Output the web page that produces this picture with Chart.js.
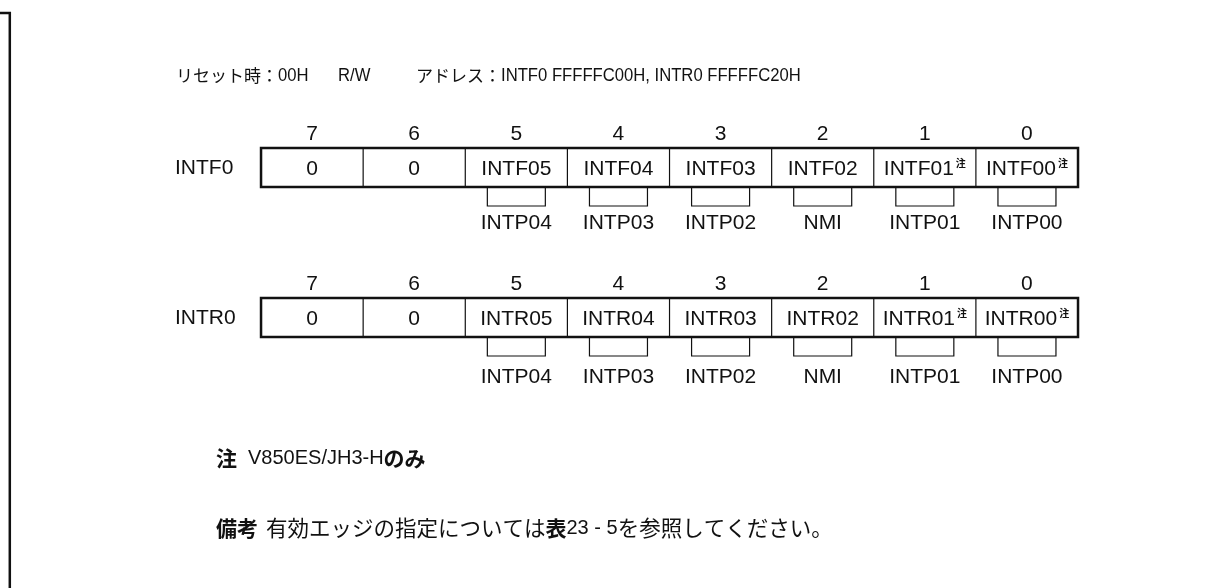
<!DOCTYPE html>
<html>
<head>
<meta charset="utf-8">
<script src="https://cdn.jsdelivr.net/npm/chart.js@4.4.1/dist/chart.umd.min.js"></script>
<style>
    body { margin: 0; background: #fff; }
    #wrap { width: 1231px; height: 588px; }
</style>
</head>
<body>
<div id="wrap"><canvas id="regChart" width="1231" height="588"></canvas></div>
<script>
// INTF0 / INTR0 register layout (bit 7 on the left)
const bits = [7, 6, 5, 4, 3, 2, 1, 0];
const registerNames = ['INTF0', 'INTR0'];
const intfFields = ['0', '0', 'INTF05', 'INTF04', 'INTF03', 'INTF02', 'INTF01', 'INTF00'];
const intrFields = ['0', '0', 'INTR05', 'INTR04', 'INTR03', 'INTR02', 'INTR01', 'INTR00'];
const noteMarks = [false, false, false, false, false, false, true, true];
const pinNames = ['', '', 'INTP04', 'INTP03', 'INTP02', 'NMI', 'INTP01', 'INTP00'];
const registerFields = [intfFields, intrFields];

const headerReset = 'リセット時：';
const headerResetValue = '00H';
const headerAccess = 'R/W';
const headerAddr = 'アドレス：';
const headerAddrValue = 'INTF0 FFFFFC00H, INTR0 FFFFFC20H';
const noteText = ['注', 'V850ES/JH3-H', 'のみ'];
const remarkText = ['備考', '有効エッジの指定については', '表', '23 - 5', 'を参照してください。'];

// layout (y values are in canvas units, x in bit units)
const rowTop = [148, 298];
const rowHeight = 39;
const bitLabelGap = 14;
const bracketDepth = 19;
const bracketHalf = 0.284;
const pinLabelGap = [36, 40];

const LAT = '21px "Liberation Sans", Arial, sans-serif';
const HLAT = '18.5px "Liberation Sans", Arial, sans-serif';
const HJP = '17px "Noto Sans CJK JP", sans-serif';
const NLAT = '20px "Liberation Sans", Arial, sans-serif';
const NJP = '21.5px "Noto Sans CJK JP", sans-serif';
const NJPB = 'bold 21px "Noto Sans CJK JP", sans-serif';
const SUP = 'bold 10px "Noto Sans CJK JP", sans-serif';

// draw text pieces one after another; optional horizontal squeeze per piece
function drawRuns(ctx, runs, x, y) {
    runs.forEach(([font, text, sx = 1]) => {
        ctx.font = font;
        ctx.save();
        ctx.translate(x, y);
        ctx.scale(sx, 1);
        ctx.fillText(text, 0, 0);
        ctx.restore();
        x += ctx.measureText(text).width * sx;
    });
    return x;
}

const registerDiagram = {
    id: 'registerDiagram',
    afterDraw(chart) {
        const { ctx, scales: { x, y } } = chart;
        ctx.save();
        ctx.fillStyle = '#111';
        ctx.strokeStyle = '#111';
        ctx.textBaseline = 'middle';

        // outer frame (top and left edge only)
        ctx.lineWidth = 2.5;
        ctx.beginPath();
        ctx.moveTo(x.getPixelForValue(x.max), y.getPixelForValue(13));
        ctx.lineTo(x.getPixelForValue(9.96), y.getPixelForValue(13));
        ctx.lineTo(x.getPixelForValue(9.96), y.getPixelForValue(y.max));
        ctx.stroke();

        // header
        ctx.textAlign = 'left';
        drawRuns(ctx, [[HJP, headerReset], [HLAT, headerResetValue, 0.9]], 176, 76);
        drawRuns(ctx, [[HLAT, headerAccess, 0.9]], 338, 76);
        drawRuns(ctx, [[HJP, headerAddr], [HLAT, headerAddrValue, 0.9]], 416, 76);

        registerNames.forEach((name, r) => {
            const top = y.getPixelForValue(rowTop[r]);
            const bottom = y.getPixelForValue(rowTop[r] + rowHeight);
            const left = x.getPixelForValue(7.5);
            const right = x.getPixelForValue(-0.5);
            const mid = (top + bottom) / 2;

            // register name
            ctx.textAlign = 'left';
            ctx.font = LAT;
            ctx.fillText(name, 175, mid + 1);

            // cell dividers
            ctx.lineWidth = 1.2;
            bits.forEach((b) => {
                if (b === 7) return;
                const px = x.getPixelForValue(b + 0.5);
                ctx.beginPath();
                ctx.moveTo(px, top);
                ctx.lineTo(px, bottom);
                ctx.stroke();
            });
            // outer box
            ctx.lineWidth = 2.5;
            ctx.strokeRect(left, top, right - left, bottom - top);

            bits.forEach((b, i) => {
                const cx = x.getPixelForValue(b);
                // bit number
                ctx.textAlign = 'center';
                ctx.font = LAT;
                ctx.fillText(String(b), cx, top - bitLabelGap);

                // field name (+ note mark)
                const field = registerFields[r][i];
                ctx.font = LAT;
                const w = ctx.measureText(field).width;
                let sw = 0;
                if (noteMarks[i]) {
                    ctx.font = SUP;
                    sw = ctx.measureText('注').width + 2;
                }
                const sx = cx - (w + sw) / 2;
                ctx.textAlign = 'left';
                ctx.font = LAT;
                ctx.fillText(field, sx, mid + 1.5);
                if (noteMarks[i]) {
                    ctx.font = SUP;
                    ctx.fillText('注', sx + w + 2, mid - 4);
                }

                // bracket to pin name
                if (pinNames[i]) {
                    const bl = x.getPixelForValue(b + bracketHalf);
                    const br = x.getPixelForValue(b - bracketHalf);
                    ctx.lineWidth = 1.2;
                    ctx.beginPath();
                    ctx.moveTo(bl, bottom);
                    ctx.lineTo(bl, bottom + bracketDepth);
                    ctx.lineTo(br, bottom + bracketDepth);
                    ctx.lineTo(br, bottom);
                    ctx.stroke();
                    ctx.textAlign = 'center';
                    ctx.font = LAT;
                    ctx.fillText(pinNames[i], cx, bottom + pinLabelGap[r]);
                }
            });
        });

        // notes
        ctx.textAlign = 'left';
        drawRuns(ctx, [[NJPB, noteText[0]]], 216, 458);
        drawRuns(ctx, [[NLAT, noteText[1]], [NJPB, noteText[2]]], 248, 458);
        drawRuns(ctx, [[NJPB, remarkText[0]]], 216, 528);
        drawRuns(ctx, [[NJP, remarkText[1]], [NJPB, remarkText[2]], [NLAT, remarkText[3]], [NJP, remarkText[4]]], 266, 528);

        ctx.restore();
    }
};

new Chart(document.getElementById('regChart'), {
    type: 'scatter',
    data: {
        datasets: registerNames.map((name, r) => ({
            label: name,
            data: bits.map((b) => ({ x: b, y: rowTop[r] + rowHeight / 2 })),
            pointRadius: 0,
        })),
    },
    options: {
        responsive: false,
        animation: false,
        events: [],
        layout: { padding: 0 },
        plugins: { legend: { display: false }, tooltip: { enabled: false } },
        scales: {
            x: { type: 'linear', min: -1.998, max: 10.056, reverse: true, display: false },
            y: { type: 'linear', min: 0, max: 588, reverse: true, display: false },
        },
    },
    plugins: [registerDiagram],
});
</script>
</body>
</html>
